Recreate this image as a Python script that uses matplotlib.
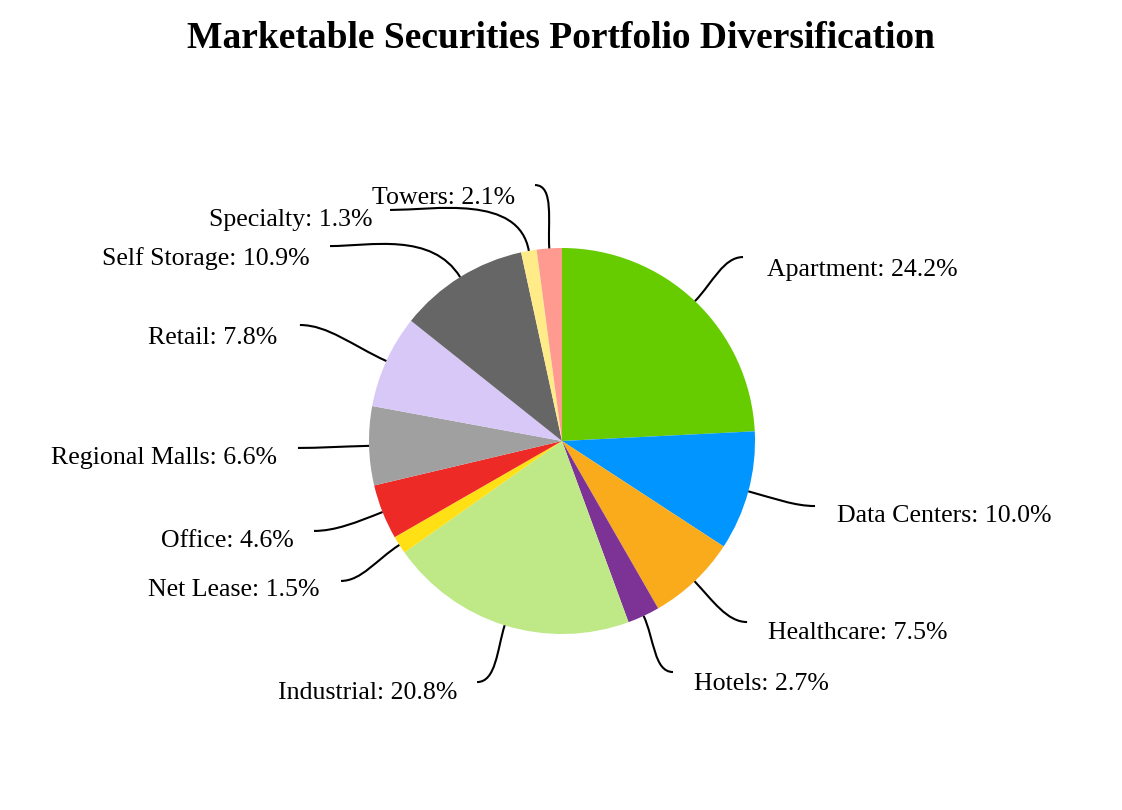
import numpy as np
import matplotlib.pyplot as plt
from matplotlib.path import Path
from matplotlib.patches import PathPatch

# sector weights (%), clockwise from 12 o'clock
sectors = ['Apartment', 'Data Centers', 'Healthcare', 'Hotels', 'Industrial',
           'Net Lease', 'Office', 'Regional Malls', 'Retail', 'Self Storage',
           'Specialty', 'Towers']
weights = [24.2, 10.0, 7.5, 2.7, 20.8, 1.5, 4.6, 6.6, 7.8, 10.9, 1.3, 2.1]
colors = ['#66CC00', '#0095FF', '#FAAB1B', '#7D3296', '#BFE887', '#FFE014',
          '#EE2A26', '#A0A0A0', '#D8C8F8', '#666666', '#FFEC88', '#FF9A90']

# label layout (in pie-radius units): leader end point and text anchor
line_end = [(0.938, 0.953), (1.311, -0.337), (0.959, -0.938), (0.575, -1.197),
            (-0.440, -1.249), (-1.145, -0.725), (-1.285, -0.466), (-1.368, -0.036),
            (-1.358, 0.601), (-1.202, 1.010), (-0.891, 1.197), (-0.140, 1.326)]
text_pos = [(1.062, 0.886), (1.425, -0.389), (1.067, -0.995), (0.684, -1.260),
            (-0.544, -1.306), (-1.254, -0.772), (-1.389, -0.519), (-1.477, -0.089),
            (-1.477, 0.533), (-1.306, 0.948), (-0.984, 1.145), (-0.244, 1.259)]

plt.rcParams['font.family'] = ['Liberation Serif', 'DejaVu Serif']

fig = plt.figure(figsize=(11.22, 8.10), dpi=100)
ax = fig.add_axes([0, 0, 1, 1])
s = 193.0

wedges, _ = ax.pie(weights, colors=colors, startangle=90, counterclock=False,
                   radius=1.0, center=(0, 0), frame=True,
                   wedgeprops=dict(linewidth=0))
ax.set_xlim(-562 / s, (1122 - 562) / s)
ax.set_ylim((441 - 810) / s, 441 / s)
ax.set_aspect('auto')
ax.axis('off')

for w, name, val, end, tp in zip(wedges, sectors, weights, line_end, text_pos):
    ang = np.deg2rad((w.theta1 + w.theta2) / 2)
    p0 = np.array([np.cos(ang), np.sin(ang)])
    end = np.array(end)
    dist = np.hypot(*(end - p0))
    p1 = p0 * (1 + 0.4 * dist)
    side = 1 if end[0] > p0[0] else -1
    if abs(end[0] - p0[0]) < 0.05:
        side = 1 if tp[0] > end[0] else -1
    p2 = end - np.array([side * 0.3 * dist, 0])
    path = Path([p0, p1, p2, end], [Path.MOVETO, Path.CURVE4, Path.CURVE4, Path.CURVE4])
    ax.add_patch(PathPatch(path, fc='none', ec='black', lw=1.5))
    ha = 'left' if tp[0] > end[0] else 'right'
    ax.text(tp[0], tp[1], f'{name}: {val:.1f}%', ha=ha, va='center',
            fontsize=18.6)

fig.text(0.5, 1 - 38 / 810, 'Marketable Securities Portfolio Diversification',
         ha='center', va='center', fontsize=27, fontweight='bold')

fig.savefig('out.png', dpi=100)
